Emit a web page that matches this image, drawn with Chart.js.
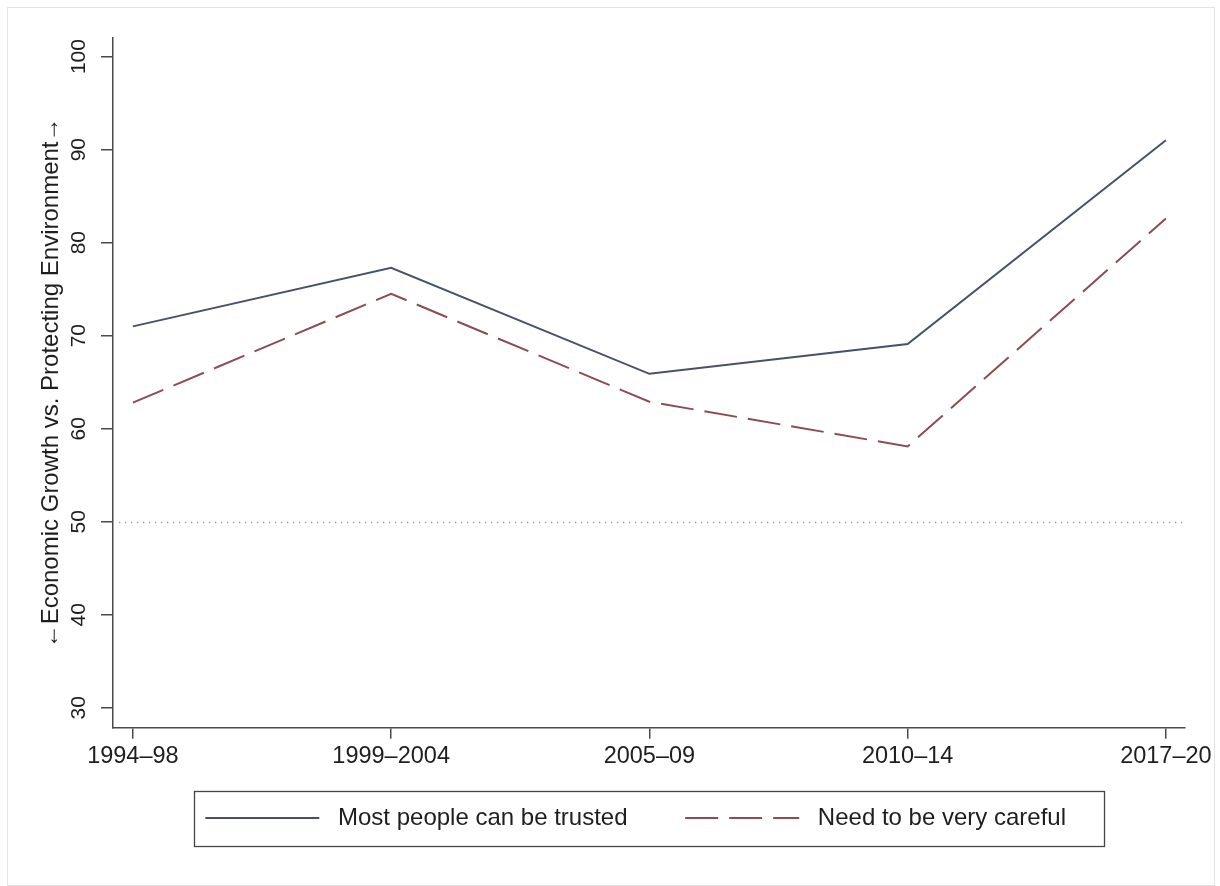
<!DOCTYPE html>
<html>
<head>
<meta charset="utf-8">
<script src="https://cdn.jsdelivr.net/npm/chart.js@4.4.1/dist/chart.umd.min.js"></script>
<style>
    html, body { margin: 0; padding: 0; background: #fff; }
    #wrap { position: relative; width: 1220px; height: 886px; }
    #frame {
        position: absolute; left: 7px; top: 7px; width: 1206px; height: 877px;
        border: 1px solid #e4e4e4; pointer-events: none;
    }
</style>
</head>
<body>
<div id="wrap">
    <canvas id="trustChart" width="1220" height="886"></canvas>
    <div id="frame"></div>
</div>
<script>
const PERIODS      = ['1994\u201398', '1999\u20132004', '2005\u201309', '2010\u201314', '2017\u201320'];
const TRUSTED      = [71.0, 77.3, 65.9, 69.1, 91.0];
const CAREFUL      = [62.8, 74.5, 62.9, 58.1, 82.6];
const Y_TICKS      = [30, 40, 50, 60, 70, 80, 90, 100];
const REF_VALUE    = 50;

const FONT   = '"Liberation Sans", Arial, Helvetica, sans-serif';
const AXIS   = '#4a4a4a';
const BLUE   = '#46526a';
const MAROON = '#8c4c54';
const LEGEND_FONT = { family: FONT, size: 24 };
const SAMPLE_W = 114;

const toPoints = vals => vals.map((v, i) => ({ x: i, y: v }));

// ── Dotted reference line + legend frame ──────────────────────
const extrasPlugin = {
    id: 'extras',
    beforeDatasetsDraw(chart) {
        const { ctx, chartArea, scales } = chart;
        const y = Math.round(scales.y.getPixelForValue(REF_VALUE)) + 0.5;
        ctx.save();
        ctx.strokeStyle = '#9a9a9a';
        ctx.lineWidth = 1.3;
        ctx.setLineDash([1.3, 4.7]);
        ctx.beginPath();
        ctx.moveTo(chartArea.left + 6, y);
        ctx.lineTo(chartArea.right, y);
        ctx.stroke();
        ctx.restore();
    },
    afterDraw(chart) {
        const boxes = chart.legend.legendHitBoxes;
        const items = chart.legend.legendItems;
        if (!boxes || !boxes.length) return;
        const { ctx } = chart;
        ctx.save();
        ctx.font = `${LEGEND_FONT.size}px ${FONT}`;
        const first = boxes[0];
        const last  = boxes[boxes.length - 1];
        const lastText = ctx.measureText(items[items.length - 1].text.trimEnd()).width;
        const cy = first.top + first.height / 2;
        const left  = Math.round(first.left - 11) + 0.5;
        const right = Math.round(last.left + SAMPLE_W + LEGEND_FONT.size / 2 + lastText + 38) + 0.5;
        ctx.strokeStyle = '#444';
        ctx.lineWidth = 1.3;
        ctx.strokeRect(left, Math.round(cy - 27) + 0.5, right - left, 55);
        ctx.restore();
    }
};

const ctx = document.getElementById('trustChart').getContext('2d');
new Chart(ctx, {
    type: 'line',
    data: {
        datasets: [
            {
                label: 'Most people can be trusted',
                data: toPoints(TRUSTED),
                borderColor: BLUE,
                borderWidth: 2,
                pointRadius: 0,
                tension: 0
            },
            {
                label: 'Need to be very careful',
                data: toPoints(CAREFUL),
                borderColor: MAROON,
                borderWidth: 2,
                borderDash: [33, 11],
                pointRadius: 0,
                tension: 0
            }
        ]
    },
    options: {
        responsive: false,
        animation: false,
        layout: { padding: { left: 0, top: 38, right: 35, bottom: 46 } },
        plugins: {
            tooltip: { enabled: false },
            legend: {
                position: 'bottom',
                fullSize: false,
                labels: {
                    usePointStyle: true,
                    pointStyle: 'line',
                    pointStyleWidth: SAMPLE_W,
                    padding: 31,
                    color: '#1e1e1e',
                    font: LEGEND_FONT,
                    // leading space widens the sample/text gap, trailing spaces widen item spacing;
                    // dash and width come from the dataset (point style would give the point's)
                    generateLabels: chart =>
                        Chart.defaults.plugins.legend.labels.generateLabels(chart)
                            .map(item => {
                                const ds = chart.data.datasets[item.datasetIndex];
                                return {
                                    ...item,
                                    text: ' ' + item.text + '    ',
                                    strokeStyle: ds.borderColor,
                                    lineWidth: ds.borderWidth,
                                    lineDash: ds.borderDash || []
                                };
                            })
                }
            }
        },
        scales: {
            x: {
                type: 'linear',
                min: -0.077,
                max: 4.074,
                afterBuildTicks: scale => {
                    scale.ticks = PERIODS.map((_, i) => ({ value: i }));
                },
                border: { display: true, color: AXIS, width: 1.5 },
                grid: {
                    drawOnChartArea: false,
                    drawTicks: true,
                    tickLength: 11,
                    color: AXIS,
                    lineWidth: 1.5
                },
                ticks: {
                    autoSkip: false,
                    maxRotation: 0,
                    padding: 4,
                    color: '#1e1e1e',
                    font: { family: FONT, size: 23.5 },
                    callback: v => PERIODS[v]
                }
            },
            y: {
                min: 27.85,
                max: 102,
                afterBuildTicks: scale => {
                    scale.ticks = Y_TICKS.map(v => ({ value: v }));
                },
                afterFit: scale => { scale.width = 113; },
                border: { display: true, color: AXIS, width: 1.5 },
                grid: {
                    drawOnChartArea: false,
                    drawTicks: true,
                    tickLength: 12,
                    color: AXIS,
                    lineWidth: 1.5
                },
                ticks: {
                    minRotation: 90,
                    maxRotation: 90,
                    crossAlign: 'center',
                    padding: 4,
                    color: '#1e1e1e',
                    font: { family: FONT, size: 21 }
                },
                title: {
                    display: true,
                    text: '\u2190Economic Growth vs. Protecting Environment\u2192',
                    color: '#1e1e1e',
                    font: { family: FONT, size: 24 },
                    padding: { top: 37, bottom: 0 }
                }
            }
        }
    },
    plugins: [extrasPlugin]
});
</script>
</body>
</html>
